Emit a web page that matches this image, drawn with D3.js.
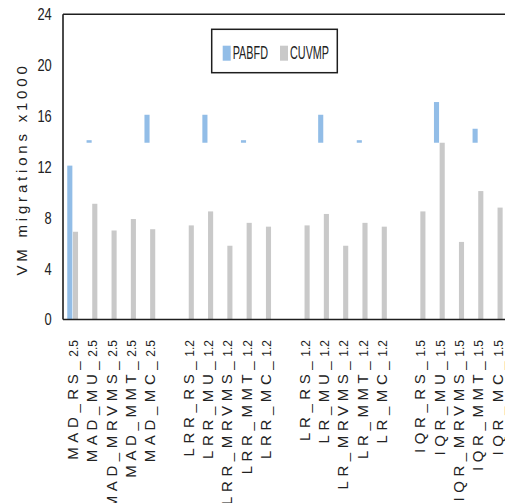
<!DOCTYPE html>
<html>
<head>
<meta charset="utf-8">
<script src="https://cdn.jsdelivr.net/npm/d3@7"></script>
<style>
    body { margin: 0; background: #fff; }
    svg { display: block; font-family: "Liberation Sans", Arial, sans-serif; }
</style>
</head>
<body>
<svg id="chart" width="505" height="503"></svg>
<script>
// categories, "" = empty gap slot between the groups
const categories = [
    "MAD_RS_2.5", "MAD_MU_2.5", "MAD_MRVMS_2.5", "MAD_MMT_2.5", "MAD_MC_2.5", "",
    "LRR_RS_1.2", "LRR_MU_1.2", "LRR_MRVMS_1.2", "LRR_MMT_1.2", "LRR_MC_1.2", "",
    "LR_RS_1.2", "LR_MU_1.2", "LR_MRVMS_1.2", "LR_MMT_1.2", "LR_MC_1.2", "",
    "IQR_RS_1.5", "IQR_MU_1.5", "IQR_MRVMS_1.5", "IQR_MMT_1.5", "IQR_MC_1.5"
];
const seriesNames = ["PABFD", "CUVMP"];
// PABFD bars, only the visible part: from base to top
const pabfdTop = [12.1, 14.1, null, null, 16.1, null, null, 16.1, null, 14.1, null, null,
    null, 16.1, null, 14.1, null, null, null, 17.1, null, 15.0, null];
const pabfdBase = [0, 13.9, null, null, 13.9, null, null, 13.9, null, 13.9, null, null,
    null, 13.9, null, 13.9, null, null, null, 13.9, null, 13.9, null];
const cuvmp = [6.9, 9.1, 7.0, 7.9, 7.1, null, 7.4, 8.5, 5.8, 7.6, 7.3, null,
    7.4, 8.3, 5.8, 7.6, 7.3, null, 8.5, 13.9, 6.1, 10.1, 8.8];
const yTicks = [0, 4, 8, 12, 16, 20, 24];
const yTitle = "VM migrations x1000";

const colors = { PABFD: "#92bde7", CUVMP: "#c9c9c9" };

const svg = d3.select("#chart");
const W = 505, H = 503;
const plotLeft = 63, plotTop = 14.3, plotBottom = 319.5;
const slot = 19.3;

svg.append("rect").attr("width", W).attr("height", H).attr("fill", "#fff");

const x = d3.scaleBand().domain(d3.range(categories.length))
    .range([plotLeft, plotLeft + categories.length * slot]).padding(0);
const x1 = d3.scaleBand().domain(seriesNames).range([0, x.bandwidth()])
    .paddingInner(0.1).paddingOuter(0.75);
const y = d3.scaleLinear().domain([0, 24]).range([plotBottom, plotTop]);

// bars
const bars = svg.append("g");
bars.selectAll(".pabfd")
    .data(d3.range(categories.length).filter(i => pabfdTop[i] != null))
    .enter().append("rect")
    .classed("pabfd", true)
    .attr("x", i => x(i) + x1("PABFD"))
    .attr("width", x1.bandwidth())
    .attr("y", i => y(pabfdTop[i]))
    .attr("height", i => y(pabfdBase[i]) - y(pabfdTop[i]))
    .attr("fill", colors.PABFD);

bars.selectAll(".cuvmp")
    .data(d3.range(categories.length).filter(i => cuvmp[i] != null))
    .enter().append("rect")
    .classed("cuvmp", true)
    .attr("x", i => x(i) + x1("CUVMP"))
    .attr("width", x1.bandwidth())
    .attr("y", i => y(cuvmp[i]))
    .attr("height", i => y(0) - y(cuvmp[i]))
    .attr("fill", colors.CUVMP);

// frame: top, left, bottom
const frame = svg.append("g").attr("stroke", "#1e1e1e").attr("stroke-width", 1.6).attr("fill", "none");
frame.append("path").attr("d", d3.line()([[plotLeft, y(24)], [W + 2, y(24)]]));
frame.append("path").attr("d", d3.line()([[plotLeft, y(24)], [plotLeft, y(0)]]));
frame.append("path").attr("d", d3.line()([[plotLeft, y(0)], [W + 2, y(0)]]));

// y tick labels (narrow look)
svg.append("g").selectAll("text")
    .data(yTicks)
    .enter().append("text")
    .attr("transform", t => `translate(51.7,${y(t)}) scale(0.78,1)`)
    .attr("dy", "0.36em")
    .attr("text-anchor", "end")
    .attr("font-size", 16.5)
    .attr("fill", "#222")
    .text(t => t);

// y title
svg.append("text")
    .attr("transform", `translate(27,169) rotate(-90)`)
    .attr("text-anchor", "middle")
    .attr("font-size", 15)
    .attr("letter-spacing", 3.8)
    .attr("fill", "#222")
    .text(yTitle);

// category labels
const labels = svg.append("g").selectAll("text")
    .data(d3.range(categories.length).filter(i => categories[i] != ""))
    .enter().append("text")
    .attr("transform", i => `translate(${x(i) + x.bandwidth() / 2},340) rotate(-90)`)
    .attr("dy", "0.36em")
    .attr("text-anchor", "end")
    .attr("font-size", 15)
    .attr("fill", "#222");
labels.append("tspan")
    .attr("letter-spacing", 4.6)
    .text(i => categories[i].slice(0, categories[i].lastIndexOf("_") + 1));
labels.append("tspan")
    .attr("font-size", 12)
    .text(i => categories[i].slice(categories[i].lastIndexOf("_") + 1));

// legend
const legend = svg.append("g");
legend.append("rect")
    .attr("x", 211.7).attr("y", 29.3).attr("width", 125.6).attr("height", 43.4)
    .attr("fill", "#fff").attr("stroke", "#1e1e1e").attr("stroke-width", 1.5);
const legendX = [222.7, 280];
seriesNames.forEach((name, k) => {
    legend.append("rect")
        .attr("x", legendX[k]).attr("y", 45.7).attr("width", 8).attr("height", 15)
        .attr("fill", colors[name]);
    legend.append("text")
        .attr("transform", `translate(${legendX[k] + 10},59.3) scale(0.57,1)`)
        .attr("font-size", 19)
        .attr("fill", "#222")
        .text(name);
});
</script>
</body>
</html>
